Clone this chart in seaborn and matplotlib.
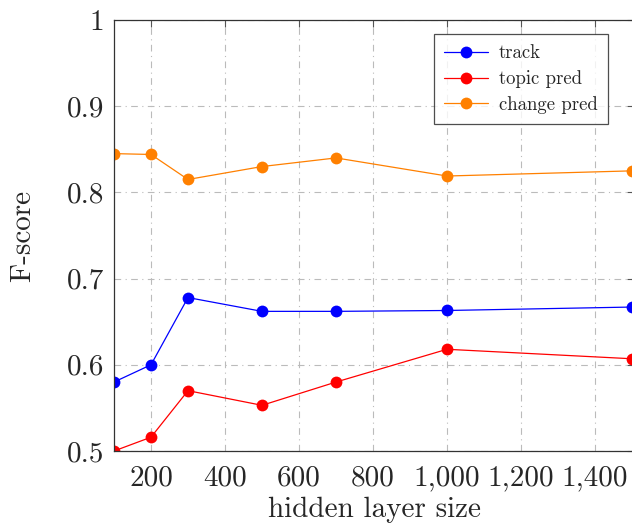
import matplotlib
matplotlib.use("Agg")
import matplotlib.pyplot as plt
from matplotlib.ticker import FuncFormatter, MultipleLocator, FixedLocator
import seaborn as sns
import pandas as pd

# hidden layer sizes and F-scores per task
hidden_sizes = [100, 200, 300, 500, 700, 1000, 1500]
track = [0.580, 0.600, 0.678, 0.662, 0.662, 0.663, 0.667]
topic_pred = [0.500, 0.516, 0.570, 0.553, 0.580, 0.618, 0.607]
change_pred = [0.845, 0.844, 0.815, 0.830, 0.840, 0.819, 0.825]
series_names = ["track", "topic pred", "change pred"]
series_colors = ["#0000ff", "#ff0000", "#ff8000"]

rows = []
for name, vals in zip(series_names, [track, topic_pred, change_pred]):
    for x, y in zip(hidden_sizes, vals):
        rows.append({"hidden layer size": x, "F-score": y, "series": name})
df = pd.DataFrame(rows)

sns.set_style("white")
plt.rcParams["font.family"] = ["cmr10", "DejaVu Serif"]
plt.rcParams["axes.formatter.use_mathtext"] = True
plt.rcParams["mathtext.fontset"] = "cm"

fig = plt.figure(figsize=(6.32, 5.26), dpi=100)
W, H = 632, 526
left, right, top, bottom = 114, 634, 20, 451
ax = fig.add_axes([left / W, 1 - bottom / H, (right - left) / W, (bottom - top) / H])

sns.lineplot(
    data=df, x="hidden layer size", y="F-score", hue="series",
    hue_order=series_names, palette=series_colors,
    marker="o", markersize=8.5, markeredgewidth=0, linewidth=0.9,
    ax=ax,
)

# the plot area runs slightly past the right edge of the canvas
ax.set_xlim(100, 100 + 1400 * (right - left) / (632 - left))
ax.set_ylim(0.5, 1.0)

ax.xaxis.set_major_locator(FixedLocator([200, 400, 600, 800, 1000, 1200, 1400]))
ax.xaxis.set_major_formatter(FuncFormatter(lambda v, p: f"{v:,.0f}"))
ax.yaxis.set_major_locator(MultipleLocator(0.1))
ax.yaxis.set_major_formatter(FuncFormatter(lambda v, p: f"{round(v, 2):g}"))

ax.tick_params(axis="both", which="major", labelsize=21, direction="in",
               length=5, width=0.8, color="#555555", top=True, right=True)
ax.tick_params(axis="x", pad=10)
ax.tick_params(axis="y", pad=7)
for s in ax.spines.values():
    s.set_color("#333333")
    s.set_linewidth(0.9)

ax.grid(True, color="#bbbbbb", linestyle=(0, (6, 4, 1, 4)), linewidth=0.8)
ax.set_axisbelow(True)

ax.set_xlabel("hidden layer size", fontsize=21, labelpad=4)
ax.set_ylabel("F-score", fontsize=21, labelpad=22)

leg = ax.legend(loc="upper right",
                bbox_to_anchor=((608 - left) / (right - left), 1 - (34 - top) / (bottom - top)),
                borderaxespad=0, fontsize=13.5, frameon=True, fancybox=False,
                edgecolor="#222222", borderpad=0.55, handlelength=2.3,
                labelspacing=0.42, handletextpad=0.6)
leg.get_frame().set_linewidth(0.9)

fig.savefig("out.png", dpi=100)
